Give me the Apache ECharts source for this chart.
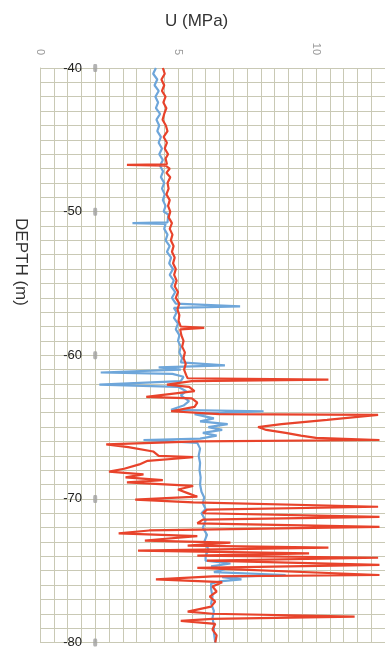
<!DOCTYPE html>
<html>
<head>
<meta charset="utf-8">
<script src="https://cdn.jsdelivr.net/npm/echarts@6/dist/echarts.min.js"></script>
<style>
  html, body { margin: 0; padding: 0; background: #fff; }
  #chart { width: 385px; height: 649px; }
</style>
</head>
<body>
<div id="chart"></div>
<script>
// depth (m), U (MPa)
const blueProfile = [
  [-40.0, 4.2], [-40.4, 4.1], [-40.8, 4.25], [-41.2, 4.15], [-41.6, 4.3], [-42.0, 4.18],
  [-42.4, 4.28], [-42.8, 4.2], [-43.2, 4.35], [-43.6, 4.22], [-44.0, 4.32], [-44.4, 4.25],
  [-44.8, 4.38], [-45.2, 4.3], [-45.6, 4.42], [-46.0, 4.32], [-46.4, 4.45], [-46.8, 4.35],
  [-47.2, 4.46], [-47.6, 4.38], [-48.0, 4.5], [-48.4, 4.42], [-48.8, 4.52], [-49.2, 4.45],
  [-49.6, 4.55], [-50.0, 4.48], [-50.2, 4.65], [-50.75, 4.62], [-50.8, 3.35], [-50.85, 4.55],
  [-51.2, 4.5], [-51.6, 4.62], [-52.0, 4.55], [-52.4, 4.7], [-52.8, 4.6], [-53.2, 4.75],
  [-53.6, 4.68], [-54.0, 4.82], [-54.4, 4.7], [-54.8, 4.85], [-55.2, 4.75], [-55.6, 4.9],
  [-56.0, 4.78], [-56.4, 4.92], [-56.6, 7.25], [-56.7, 4.85], [-57.0, 4.95], [-57.4, 4.85],
  [-57.8, 5.0], [-58.2, 4.92], [-58.6, 5.05], [-59.0, 5.0], [-59.4, 5.1], [-59.8, 5.05],
  [-60.2, 5.15], [-60.5, 5.1], [-60.7, 6.7], [-60.85, 4.3], [-61.0, 5.1], [-61.2, 2.2],
  [-61.3, 4.8], [-61.5, 5.2], [-61.8, 5.1], [-62.05, 2.15], [-62.2, 5.0], [-62.5, 5.3],
  [-62.8, 5.1], [-63.2, 5.4], [-63.5, 5.2], [-63.8, 4.75], [-63.9, 8.1], [-64.1, 5.6],
  [-64.4, 6.3], [-64.6, 5.8], [-64.8, 6.8], [-65.0, 6.1], [-65.2, 6.6], [-65.4, 5.9],
  [-65.6, 6.4], [-65.8, 5.8], [-65.9, 3.75], [-66.1, 5.7], [-66.5, 5.8], [-67.0, 5.75],
  [-67.5, 5.8], [-68.0, 5.78], [-68.5, 5.82], [-69.0, 5.8], [-69.5, 5.85], [-69.9, 5.95],
  [-70.3, 5.9], [-70.7, 6.0], [-71.0, 5.85], [-71.5, 6.0], [-72.0, 5.9], [-72.5, 6.05],
  [-73.0, 5.95], [-73.5, 6.1], [-74.0, 6.0], [-74.3, 6.0], [-74.5, 6.9], [-74.7, 6.2],
  [-74.9, 6.7], [-75.1, 6.3], [-75.3, 8.9], [-75.45, 6.6], [-75.6, 7.3], [-75.75, 6.5],
  [-75.9, 6.2], [-76.3, 6.2], [-76.8, 6.25], [-77.3, 6.2], [-77.8, 6.3], [-78.3, 6.25],
  [-78.8, 6.3], [-79.3, 6.3], [-80.0, 6.35]
];

const redProfile = [
  [-40.0, 4.45], [-40.4, 4.52], [-40.8, 4.4], [-41.2, 4.5], [-41.6, 4.42], [-42.0, 4.55],
  [-42.4, 4.47], [-42.8, 4.58], [-43.2, 4.5], [-43.6, 4.44], [-44.0, 4.56], [-44.4, 4.62],
  [-44.8, 4.48], [-45.2, 4.6], [-45.6, 4.52], [-46.0, 4.64], [-46.3, 4.55], [-46.7, 4.6],
  [-46.75, 3.15], [-46.8, 4.55], [-47.0, 4.7], [-47.3, 4.58], [-47.6, 4.72], [-48.0, 4.62],
  [-48.4, 4.66], [-48.8, 4.58], [-49.2, 4.7], [-49.6, 4.64], [-50.0, 4.72], [-50.4, 4.66],
  [-50.8, 4.78], [-51.2, 4.7], [-51.6, 4.8], [-52.0, 4.74], [-52.4, 4.84], [-52.8, 4.78],
  [-53.2, 4.88], [-53.6, 4.82], [-54.0, 4.92], [-54.4, 4.86], [-54.8, 4.95], [-55.2, 4.88],
  [-55.6, 5.0], [-56.0, 4.92], [-56.4, 5.05], [-56.8, 4.98], [-57.2, 5.05], [-57.6, 5.02],
  [-58.0, 5.1], [-58.1, 5.95], [-58.2, 5.08], [-58.6, 5.12], [-59.0, 5.2], [-59.4, 5.15],
  [-59.8, 5.25], [-60.2, 5.2], [-60.6, 5.28], [-61.0, 5.22], [-61.4, 5.3], [-61.6, 5.35],
  [-61.7, 10.45], [-61.8, 5.5], [-62.05, 4.6], [-62.2, 5.4], [-62.5, 5.6], [-62.9, 3.85],
  [-63.0, 5.5], [-63.3, 5.7], [-63.6, 5.6], [-63.9, 4.75], [-64.1, 6.5], [-64.15, 12.25],
  [-64.5, 10.4], [-64.8, 8.75], [-65.0, 7.9], [-65.2, 8.2], [-65.4, 8.9], [-65.6, 9.45],
  [-65.75, 10.0], [-65.9, 12.3], [-66.0, 5.7], [-66.2, 2.4], [-66.4, 3.2], [-66.7, 4.1],
  [-67.0, 4.3], [-67.1, 5.55], [-67.35, 3.9], [-67.6, 3.6], [-67.9, 3.05], [-68.1, 2.5],
  [-68.3, 3.75], [-68.5, 3.1], [-68.7, 4.45], [-68.85, 3.15], [-69.1, 5.55], [-69.35, 5.0],
  [-69.6, 5.35], [-69.85, 5.7], [-70.05, 3.45], [-70.25, 5.55], [-70.55, 12.25], [-70.75, 6.05],
  [-71.0, 5.9], [-71.25, 12.3], [-71.45, 5.9], [-71.7, 5.7], [-71.95, 12.3], [-72.05, 12.3],
  [-72.2, 3.95], [-72.4, 2.85], [-72.6, 5.7], [-72.9, 3.8], [-73.05, 6.9], [-73.25, 5.35],
  [-73.4, 10.45], [-73.6, 3.55], [-73.8, 9.75], [-73.95, 5.7], [-74.1, 12.25], [-74.3, 6.05],
  [-74.6, 12.3], [-74.8, 5.7], [-75.3, 12.3], [-75.4, 6.25], [-75.6, 4.2], [-75.8, 6.6],
  [-76.1, 6.25], [-76.45, 6.4], [-76.8, 6.15], [-77.15, 6.35], [-77.5, 6.2], [-77.85, 5.35],
  [-78.0, 6.25], [-78.2, 11.4], [-78.35, 6.25], [-78.5, 5.1], [-78.7, 6.35], [-79.1, 6.25],
  [-79.5, 6.4], [-80.0, 6.35]
];

const depthMarks = [-40, -50, -60, -70, -80];
const markU = 2;

const chart = echarts.init(document.getElementById('chart'));

chart.setOption({
  animation: false,
  title: {
    text: 'U (MPa)',
    left: 160,
    top: 8,
    textStyle: { fontFamily: 'Liberation Sans', fontSize: 17, fontWeight: 'normal', color: '#333' }
  },
  graphic: [{
    type: 'text',
    x: 21,
    y: 262,
    rotation: -Math.PI / 2,
    style: {
      text: 'DEPTH (m)',
      font: '17px "Liberation Sans"',
      fill: '#333',
      textAlign: 'center',
      textVerticalAlign: 'middle'
    }
  }],
  grid: { left: 40, top: 68, width: 350, height: 575 },
  xAxis: {
    type: 'value',
    position: 'top',
    min: 0,
    max: 12.5,
    interval: 0.5,
    axisLine: { show: false },
    axisTick: { show: false },
    axisLabel: {
      rotate: 90,
      margin: 13,
      fontSize: 11,
      color: '#999',
      formatter: v => (v % 5 === 0 ? String(v) : '')
    },
    splitLine: { lineStyle: { color: '#c9c9b5', width: 1 } }
  },
  yAxis: {
    type: 'value',
    min: -80,
    max: -40,
    interval: 1,
    axisLine: { show: true, lineStyle: { color: '#c9c9b5' } },
    axisTick: { show: false },
    axisLabel: {
      margin: -42,
      fontFamily: 'Liberation Sans',
      fontSize: 13,
      color: '#222',
      formatter: v => (v % 10 === 0 ? String(v) : '')
    },
    splitLine: { lineStyle: { color: '#c9c9b5', width: 1 } }
  },
  series: [
    {
      name: 'blue',
      type: 'line',
      showSymbol: false,
      lineStyle: { color: '#6ea6da', width: 2.2 },
      data: blueProfile.map(p => [p[1], p[0]])
    },
    {
      name: 'red',
      type: 'line',
      showSymbol: false,
      lineStyle: { color: '#e8432b', width: 2.2 },
      data: redProfile.map(p => [p[1], p[0]])
    },
    {
      name: 'marks',
      type: 'scatter',
      symbol: 'roundRect',
      symbolSize: [4, 8],
      itemStyle: { color: '#a0a0a0' },
      data: depthMarks.map(d => [markU, d])
    }
  ]
});
</script>
</body>
</html>
